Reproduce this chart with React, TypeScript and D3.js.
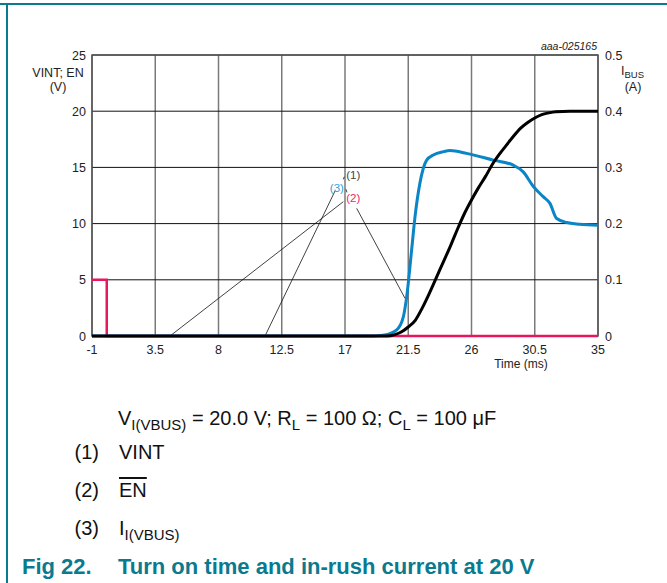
import React from "react";
import * as d3 from "d3";

const xTicks = [-1, 3.5, 8, 12.5, 17, 21.5, 26, 30.5, 35];
const xTickLabels = ["-1", "3.5", "8", "12.5", "17", "21.5", "26", "30.5", "35"];
const yTicksLeft = [0, 5, 10, 15, 20, 25];
const yTicksRight = [0, 0.1, 0.2, 0.3, 0.4, 0.5];
const yTickLabelsRight = ["0", "0.1", "0.2", "0.3", "0.4", "0.5"];

// (1) VINT (V)
const vintT = [-1, 20.0, 20.5, 21.0, 21.5, 22.0, 22.5, 23.0, 23.5, 24.0, 24.5, 25.0, 25.5, 26.0, 26.5, 27.0, 27.5, 28.0, 28.5, 29.0, 29.5, 30.0, 30.5, 31.0, 31.5, 32.0, 33.0, 35];
const vintV = [0, 0, 0.1, 0.35, 0.8, 1.4, 2.5, 3.8, 5.2, 6.6, 8.0, 9.5, 10.9, 12.1, 13.2, 14.2, 15.3, 16.2, 17.0, 17.8, 18.5, 19.0, 19.4, 19.7, 19.85, 19.95, 20, 20];

// (2) EN (V)
const enT = [-1, 0.05, 0.05, 35];
const enV = [5, 5, 0, 0];

// (3) I(VBUS) (A)
const ibusT = [-1, 19.0, 19.84, 20.68, 21.15, 21.39, 21.74, 21.98, 22.33, 22.81, 23.28, 24.0, 24.47, 25.65, 27.55, 28.97, 29.68, 30.4, 31.1, 31.58, 32.06, 32.77, 33.7, 35];
const ibusA = [0, 0, 0.002, 0.011, 0.034, 0.07, 0.153, 0.212, 0.272, 0.313, 0.322, 0.328, 0.33, 0.325, 0.313, 0.304, 0.292, 0.266, 0.248, 0.236, 0.209, 0.202, 0.199, 0.197];

// callout labels (data coords: t, V)
const calloutLabels = ["(1)", "(3)", "(2)"];
const calloutColors = ["#444444", "#2a9fd8", "#e8286a"];
const calloutT = [17.59, 16.42, 17.59];
const calloutV = [14.32, 13.17, 12.28];
// leader lines [t1, V1, t2, V2]
const leaderLines = [
  [16.88, 11.95, 4.55, 0],
  [16.29, 12.9, 11.31, 0],
  [17.83, 11.36, 21.27, 3.35],
  [16.95, 14.17, 16.88, 13.94],
  [17.07, 13.05, 17.14, 12.78],
];

const FONT = "Arial, 'Liberation Sans', Helvetica, sans-serif";
const TEAL = "#0a7a8f";

export default function App() {
  const W = 667, H = 583;
  const left = 92, right = 598, top = 55, bottom = 336;
  const x = d3.scaleLinear().domain([-1, 35]).range([left, right]);
  const yL = d3.scaleLinear().domain([0, 25]).range([bottom, top]);
  const yR = d3.scaleLinear().domain([0, 0.5]).range([bottom, top]);

  const lineV = d3.line<number>().x((_, i) => x(vintT[i])).y((d) => yL(d)).curve(d3.curveMonotoneX);
  const lineEn = d3.line<number>().x((_, i) => x(enT[i])).y((d) => yL(d));
  const lineI = d3.line<number>().x((_, i) => x(ibusT[i])).y((d) => yR(d)).curve(d3.curveMonotoneX);

  const fs = 12.5;
  const nfs = 20;
  const sfs = 15;
  return (
    <svg width={W} height={H} style={{ position: "absolute", left: 0, top: 0, background: "#fff" }} fontFamily={FONT}>
      {/* page frame */}
      <line x1={0} x2={W} y1={4} y2={4} stroke={TEAL} strokeWidth={2} />
      <line x1={7} x2={7} y1={4} y2={H} stroke={TEAL} strokeWidth={2} />

      {/* grid */}
      {xTicks.map((t, i) => (
        <line key={"vx" + i} x1={x(t)} x2={x(t)} y1={top} y2={bottom} stroke="#7a7a7a" strokeWidth={1.5} />
      ))}
      {yTicksLeft.map((v, i) => (
        <line key={"hy" + i} x1={left} x2={right} y1={yL(v)} y2={yL(v)} stroke="#111" strokeWidth={1} />
      ))}
      <rect x={left} y={top} width={right - left} height={bottom - top} fill="none" stroke="#555" strokeWidth={1.5} />

      {/* tick labels */}
      {yTicksLeft.map((v, i) => (
        <text key={"yl" + i} x={left - 6} y={yL(v) + 4.5} fontSize={fs} textAnchor="end" fill="#222">{v}</text>
      ))}
      {yTicksRight.map((v, i) => (
        <text key={"yr" + i} x={right + 7} y={yR(v) + 4.5} fontSize={fs} textAnchor="start" fill="#222">{yTickLabelsRight[i]}</text>
      ))}
      {xTicks.map((t, i) => (
        <text key={"xl" + i} x={x(t)} y={bottom + 18} fontSize={fs} textAnchor="middle" fill="#222">{xTickLabels[i]}</text>
      ))}
      <text x={521} y={368} fontSize={12} textAnchor="middle" fill="#222">Time (ms)</text>
      <text x={58} y={77} fontSize={fs} textAnchor="middle" fill="#222">VINT; EN</text>
      <text x={58} y={91} fontSize={fs} textAnchor="middle" fill="#222">(V)</text>
      <text x={621} y={75} fontSize={fs} fill="#222">I<tspan fontSize={9.5} dy={3}>BUS</tspan></text>
      <text x={633} y={91} fontSize={fs} textAnchor="middle" fill="#222">(A)</text>
      <text x={597} y={50} fontSize={10.5} fontStyle="italic" textAnchor="end" fill="#222">aaa-025165</text>

      {/* leader lines */}
      {leaderLines.map((l, i) => (
        <line key={"ll" + i} x1={x(l[0])} y1={yL(l[1])} x2={x(l[2])} y2={yL(l[3])} stroke="#111" strokeWidth={0.8} />
      ))}
      {calloutLabels.map((s, i) => (
        <text key={"cl" + i} x={x(calloutT[i])} y={yL(calloutV[i]) + 4} fontSize={11.5} textAnchor="middle" fill={calloutColors[i]}>{s}</text>
      ))}

      {/* data */}
      <path d={lineEn(enV) || ""} fill="none" stroke="#e8175d" strokeWidth={2.5} />
      <path d={lineI(ibusA) || ""} fill="none" stroke="#0a85c6" strokeWidth={3} />
      <path d={lineV(vintV) || ""} fill="none" stroke="#000" strokeWidth={3} />

      {/* notes */}
      <text x={118} y={425} fontSize={nfs} fill="#111">V<tspan fontSize={sfs} dy={5}>I(VBUS)</tspan><tspan dy={-5}> = 20.0 V; R</tspan><tspan fontSize={sfs} dy={5}>L</tspan><tspan dy={-5}> = 100 Ω; C</tspan><tspan fontSize={sfs} dy={5}>L</tspan><tspan dy={-5}> = 100 μF</tspan></text>
      <text x={99} y={459} fontSize={nfs} textAnchor="end" fill="#111">(1)</text>
      <text x={119} y={459} fontSize={nfs} fill="#111">VINT</text>
      <text x={99} y={497} fontSize={nfs} textAnchor="end" fill="#111">(2)</text>
      <text x={119} y={497} fontSize={nfs} fill="#111" textDecoration="overline">EN</text>
      <text x={99} y={535} fontSize={nfs} textAnchor="end" fill="#111">(3)</text>
      <text x={119} y={535} fontSize={nfs} fill="#111">I<tspan fontSize={sfs} dy={5}>I(VBUS)</tspan></text>
      <text x={22} y={574} fontSize={22} fontWeight="bold" fill={TEAL}>Fig 22.</text>
      <text x={118} y={574} fontSize={22} fontWeight="bold" fill={TEAL}>Turn on time and in-rush current at 20 V</text>
    </svg>
  );
}
